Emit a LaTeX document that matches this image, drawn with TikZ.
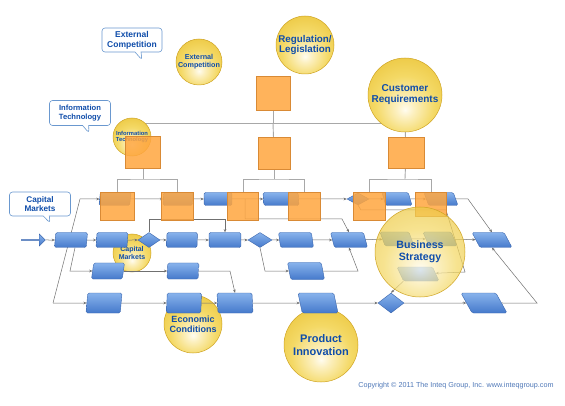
\documentclass[tikz,border=0pt]{standalone}
\usepackage{fontspec}
\setmainfont{Liberation Sans}
\usetikzlibrary{shapes.geometric,shapes.callouts,shapes.arrows,arrows.meta}
\definecolor{txtblue}{HTML}{0F4DAA}
\definecolor{bluetop}{HTML}{88B3EC}
\definecolor{bluebot}{HTML}{4579CB}
\definecolor{blueedge}{HTML}{3A66AE}
\definecolor{orangef}{HTML}{FFA63F}
\definecolor{orangee}{HTML}{D98A35}
\definecolor{ballcenter}{HTML}{FFFCEF}
\definecolor{balllight}{HTML}{FCF0C0}
\definecolor{ballmid}{HTML}{F4D966}
\definecolor{ballring}{HTML}{EBC53C}
\definecolor{ballout}{HTML}{E2B42A}
\definecolor{balledge}{HTML}{CFA423}
\definecolor{calloutedge}{HTML}{6A98CF}
\definecolor{linegray}{HTML}{A8A8A8}
\definecolor{flowline}{HTML}{707070}
\definecolor{copyblue}{HTML}{4F78B8}
\pgfdeclareradialshading{goldball}{\pgfpoint{0bp}{-10bp}}{color(0bp)=(ballcenter); color(6bp)=(balllight); color(20bp)=(ballmid); color(36bp)=(ballring); color(50bp)=(ballout); color(70bp)=(ballout)}
\pgfdeclarelayer{back}
\pgfdeclarelayer{lines}
\pgfdeclarelayer{front}
\pgfdeclarelayer{top}
\pgfsetlayers{back,lines,main,front,top}
\tikzset{
  proc/.style={trapezium, trapezium left angle={90+#1}, trapezium right angle={90-#1}, trapezium stretches body=true, text height=14pt, text depth=0pt, minimum width=33pt, inner sep=0pt, rounded corners=1.5pt, draw=blueedge, line width=0.4pt, top color=bluetop, bottom color=bluebot},
  proc/.default=0.5,
  dec/.style={diamond, minimum width=22pt, minimum height=15pt, inner sep=0pt, draw=blueedge, line width=0.4pt, top color=bluetop, bottom color=bluebot},
  obox/.style={rectangle, draw=orangee, line width=0.4pt, fill=orangef, fill opacity=0.85, inner sep=0pt},
  goldc/.style={circle, shading=goldball, draw=balledge, line width=0.5pt, inner sep=0pt, text=txtblue, align=center},
  note/.style={rectangle callout, rounded corners=3pt, draw=calloutedge, line width=0.6pt, fill=white, text=txtblue, align=center, inner sep=0pt, callout pointer width=6pt},
  tree/.style={draw=linegray, line width=0.9pt},
  flow/.style={draw=flowline, line width=0.5pt},
  arr/.style={flow, -{Stealth[length=3.2pt,width=2.6pt]}},
}
\begin{document}
\begin{tikzpicture}[x=1pt,y=-1pt]
\useasboundingbox (0,0) rectangle (565,406);
\begin{pgfonlayer}{back}
\fill[white] (0,0) rectangle (565,406);
\end{pgfonlayer}

% ---------- blue flow shapes (main layer)
\node[proc=-6, minimum width=32pt, text height=13pt] (a1) at (115,199) {};
\node[proc=-3, minimum width=30pt, text height=13pt] (a2) at (178,199) {};
\node[proc=0.5, minimum width=28pt, text height=13pt] (a3) at (218,199) {};
\node[proc=4, minimum width=36pt, text height=13pt] (a4) at (281,199) {};
\node[dec, minimum width=22pt, minimum height=12pt] (a5) at (358,199) {};
\node[proc=16, minimum width=30pt, text height=13pt] (a6) at (397,199) {};
\node[proc=20, minimum width=34pt, text height=13pt] (a7) at (441,199) {};

\node[single arrow, single arrow head extend=2.5pt, minimum height=24pt, minimum width=12pt, inner sep=0pt, draw=blueedge, line width=0.4pt, top color=bluetop, bottom color=bluebot] (inp) at (33,240) {};
\node[proc=-5, minimum width=33pt, text height=15pt] (p1) at (71,240) {};
\node[proc=-4, minimum width=32pt, text height=15pt] (p2) at (112,240) {};
\node[dec] (d1) at (149,240) {};
\node[proc=-2, minimum width=31pt, text height=15pt] (p3) at (182,240) {};
\node[proc=0.5, minimum width=32pt, text height=15pt] (p4) at (225,240) {};
\node[dec, minimum width=24pt] (d2) at (260,240) {};
\node[proc=8, minimum width=35pt, text height=15pt] (p5) at (296,240) {};
\node[proc=15, minimum width=37pt, text height=15pt] (p6) at (349,240) {};
\node[proc=20, minimum width=34pt, text height=14pt] (f1) at (397,239) {};
\node[proc=23, minimum width=34pt, text height=14pt] (f2) at (440,239) {};
\node[proc=28, minimum width=40pt, text height=15pt] (p9) at (492,240) {};

\node[proc=-8, minimum width=33pt, text height=16pt] (q1) at (108,271) {};
\node[proc=-3, minimum width=32pt, text height=16pt] (q2) at (183,271) {};
\node[proc=11, minimum width=37pt, text height=17pt] (q3) at (306,271) {};
\node[proc=25, minimum width=42pt, text height=14pt] (f3) at (418,274) {};

\node[proc=-5, minimum width=36pt, text height=20pt] (r1) at (104,303) {};
\node[proc=-2, minimum width=35pt, text height=20pt] (r2) at (184,303) {};
\node[proc=3, minimum width=36pt, text height=20pt] (r3) at (235,303) {};
\node[proc=12, minimum width=40pt, text height=20pt] (r4) at (318,303) {};
\node[dec, minimum width=26pt, minimum height=20pt] (d3) at (391,303) {};
\node[proc=29, minimum width=46pt, text height=20pt] (r5) at (484,303) {};

% ---------- orange boxes of the upper tree
\node[obox, minimum width=34pt, minimum height=34pt] (o0) at (273,93) {};
\node[obox, minimum width=32pt, minimum height=32pt] (oMid) at (274,153) {};
\node[obox, minimum width=36pt, minimum height=31pt] (oCus) at (406,153) {};

\node[goldc, minimum size=74pt, font=\bfseries\fontsize{10}{11}\selectfont] (cus) at (405,95) {Customer\\Requirements};

% ---------- callouts
\node[note, minimum width=60pt, minimum height=24pt, callout absolute pointer={(142,60)}, font=\bfseries\fontsize{8.5}{10}\selectfont] (n1) at (132,40) {External\\Competition};
\node[note, minimum width=61pt, minimum height=25pt, callout absolute pointer={(89,133)}, font=\bfseries\fontsize{7.6}{9}\selectfont] (n2) at (80,113) {Information\\Technology};
\node[note, minimum width=61pt, minimum height=24pt, callout absolute pointer={(50,223)}, font=\bfseries\fontsize{8.2}{9}\selectfont] (n3) at (40,204) {Capital\\Markets};

\node[text=copyblue, font=\fontsize{7.2}{8}\selectfont, inner sep=0pt] (copy) at (456,386) {Copyright \textcopyright\ 2011 The Inteq Group, Inc. www.inteqgroup.com};

% ---------- front layer: semi-transparent orange boxes
\begin{pgfonlayer}{front}
\node[obox, minimum width=34pt, minimum height=28pt] (b1) at (117,206) {};
\node[obox, minimum width=32pt, minimum height=28pt] (b2) at (177,206) {};
\node[obox, minimum width=31pt, minimum height=28pt] (b3) at (243,206) {};
\node[obox, minimum width=32pt, minimum height=28pt] (b4) at (304,206) {};
\node[obox, minimum width=32pt, minimum height=28pt] (b5) at (369,206) {};
\node[obox, minimum width=31pt, minimum height=24pt] (b6) at (431,204) {};
\node[obox, minimum width=35pt, minimum height=32pt] (oIT) at (143,152) {};
\end{pgfonlayer}

\begin{pgfonlayer}{top}
\node[goldc, minimum size=90pt, fill opacity=0.72, text opacity=1, font=\bfseries\fontsize{10.6}{12.5}\selectfont] (bus) at (420,252) {Business\\Strategy};
\end{pgfonlayer}

% ---------- tree lines and background circles
\begin{pgfonlayer}{back}
\coordinate (j0) at (273,123);
\coordinate (jL) at (143,123);
\coordinate (jR) at (405,123);
\draw[tree] (o0) -- (j0);
\draw[tree] (jL) -- (jR);
\draw[tree] (jL) -- (oIT);
\draw[tree] (j0) -- (oMid);
\draw[tree] (jR) -- (oCus);
\coordinate (kIT) at (143,179);
\coordinate (kM) at (274,179);
\coordinate (kC) at (405,179);
\draw[tree] (oIT) -- (kIT);
\draw[tree] (b1.north) |- (kIT) -| (b2.north);
\draw[tree] (oMid) -- (kM);
\draw[tree] (b3.north) |- (kM) -| (b4.north);
\draw[tree] (oCus) -- (kC);
\draw[tree] (b5.north) |- (kC) -| (b6.north);

\node[goldc, minimum size=46pt, font=\bfseries\fontsize{7.2}{8}\selectfont] (extc) at (199,62) {External\\Competition};
\node[goldc, minimum size=58pt, font=\bfseries\fontsize{9.8}{10.5}\selectfont] (reg) at (305,45) {Regulation/\\Legislation};
\node[goldc, minimum size=38pt, font=\bfseries\fontsize{5.8}{6.5}\selectfont] (itc) at (132,137) {Information\\Technology};
\node[goldc, minimum size=38pt, font=\bfseries\fontsize{7}{8}\selectfont] (cap) at (132,253) {Capital\\Markets};
\node[goldc, minimum size=58pt, font=\bfseries\fontsize{9}{10}\selectfont] (eco) at (193,324) {Economic\\Conditions};
\node[goldc, minimum size=74pt, font=\bfseries\fontsize{11}{12.5}\selectfont] (prod) at (321,345) {Product\\Innovation};
\end{pgfonlayer}

% ---------- flow connectors
\begin{pgfonlayer}{lines}
\coordinate (c1) at (80,199);
\coordinate (c2) at (53,303);
\coordinate (cq) at (70,271);
\draw[flow] (c1) -- (c2);
\draw[arr] (c1) -- (a1);
\draw[arr] (c2) -- (r1);
\draw[arr] ([xshift=4pt]p1.south) -- (cq) -- (q1);
\draw[arr] (inp) -- (p1);
\draw[arr] (p1) -- (p2);
\draw[arr] (p2) -- (d1);
\draw[arr] (d1) -- (p3);
\draw[arr] (p3) -- (p4);
\draw[arr] (p4) -- (d2);
\draw[arr] (d2) -- (p5);
\draw[arr] (p5) -- (p6);
\draw[arr] (p6) -- (f1);
\draw[arr] (f1) -- (f2);
\draw[arr] (f2) -- (p9);

\draw[arr] (a1) -- (a2);
\draw[arr] (a2) -- (a3);
\draw[arr] (a3) -- (a4);
\draw[arr] (a4) -- (a5);
\draw[arr] (a5) -- (a6);
\draw[arr] (a6) -- (a7);
\coordinate (h8) at (468,199);
\draw[arr] (a7) -- (h8) -- (p9.north);

\coordinate (s1) at (245,199);
\coordinate (h2) at (245,219);
\coordinate (h3) at (342,219);
\draw[arr] (s1) -- (h2) -- (h3) -- (p6.north);
\coordinate (h1) at (225,219);
\draw[arr] (d1.north) |- (h1) -- (p4.north);
\coordinate (h4) at (265,271);
\draw[arr] (d2.south) -- (h4) -- (q3);

\draw[arr] (q1) -- (q2);
\coordinate (h5) at (230,271);
\draw[arr] (q2) -- (h5) -- (r3.north);
\coordinate (h6) at (358,271);
\draw[arr] (q3) -- (h6) -- (p6.south);

\draw[arr] (r1) -- (r2);
\draw[arr] (r2) -- (r3);
\draw[arr] (r3) -- (r4);
\draw[arr] (r4) -- (d3);
\draw[arr] (d3) -- (r5);
\coordinate (h7) at (537,303);
\draw[arr] (r5) -- (h7) -- (p9.south);

\coordinate (h9) at (361,210);
\coordinate (h10) at (446,210);
\coordinate (h11) at (465,272);
\draw[arr] (a5.south) -- (h9) -- (h10) -- (h11) -- (f3);
\draw[arr] (f3.bottom left corner) -- (d3.north);
\end{pgfonlayer}
\end{tikzpicture}
\end{document}
